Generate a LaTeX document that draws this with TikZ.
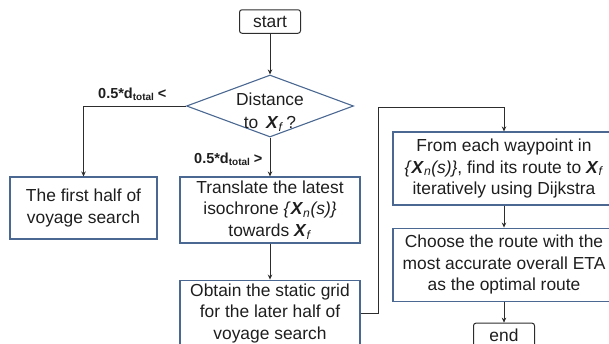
\documentclass[tikz,border=0pt]{standalone}
\usepackage{fontspec}
\setmainfont{Liberation Sans}
\usetikzlibrary{
  shapes.geometric, % Shape "diamond"
  arrows.meta,
  positioning,      % Function "of" (e.g. [below=of x])
}
\definecolor{boxblue}{RGB}{74,104,145}
\definecolor{lineblack}{RGB}{45,45,45}
\definecolor{textblack}{RGB}{30,30,30}
\newcommand{\vX}[1]{\textbf{\textit{X}}\textsubscript{\textit{#1}}}
\newcommand{\vXs}{\textit{\{}\vX{n}\textit{(s)\}}}
\newcommand{\dtot}[1]{\textbf{0.5*d\raisebox{-0.35ex}{\fontsize{10}{10}\selectfont total} #1}}
\tikzset{
  font=\fontsize{17.4}{21.5}\selectfont,
  >={Stealth[length=5pt,width=4.5pt]},
  flow/.style={
    ->,
    draw=lineblack,
    line width=0.9pt
  },
  my box/.style={
    draw=boxblue,
    line width=1.1pt,
    rectangle,
    align=center,
    inner sep=0pt,
    text=textblack
  },
  my terminal/.style={
    draw=lineblack,
    line width=1pt,
    rounded corners=2.5pt,
    minimum width=61pt,
    minimum height=23.5pt,
    inner sep=0pt,
    text=textblack
  },
  my decision/.style={
    draw=boxblue,
    line width=1.1pt,
    diamond,
    minimum width=167pt,
    minimum height=62pt,
    inner sep=0pt
  },
  cond/.style={
    font=\fontsize{14.5}{16}\selectfont,
    text=textblack,
    inner sep=0pt
  }
}

\begin{document}
\begin{tikzpicture}[x=1pt,y=-1pt]
\useasboundingbox (0,0) rectangle (609,343);
\clip (0,0) rectangle (609,343);
\node[my terminal]  (start) at (270,21.5) {start};
\node[my decision,
      label={[align=center,text=textblack,yshift=-6pt]center:Distance\\[1.5pt]to \,\vX{f}\,?}]
                    (dist)  at (270,106) {};
\node[my box, minimum width=147pt, minimum height=62pt]
                    (first) at (83.5,208) {The first half of\\voyage search};
\node[my box, minimum width=180pt, minimum height=66pt]
                    (transl) at (270,210) {Translate the latest\\isochrone \vXs\\towards \vX{f}};
\node[my box, minimum width=180pt, minimum height=66pt]
                    (grid) [below=36pt of transl] {Obtain the static grid\\for the later half of\\voyage search};
\node[my box, minimum width=222pt, minimum height=73pt]
                    (route) at (504,168.5) {From each waypoint in\\\vXs, find its route to \vX{f}\\iteratively using Dijkstra};
\node[my box, minimum width=222pt, minimum height=73pt]
                    (best) [below=22pt of route] {Choose the route with the\\most accurate overall ETA\\as the optimal route};
\node[my terminal]  (end) [below=21pt of best] {end};
\coordinate (turn) at (378,107);
% conditions
\node[cond, anchor=base west] (less) at (98,98)  {\dtot{<}};
\node[cond, anchor=base west] (more) at (194,163) {\dtot{>}};
\path[flow] (start)  edge (dist)
            (dist)   edge (transl)
            (transl) edge (grid)
            (route)  edge (best)
            (best)   edge (end);
\draw[flow] (dist.west) -| (first.north);
\draw[flow] (grid.east) -| (turn) -| (route.north);
\end{tikzpicture}
\end{document}
